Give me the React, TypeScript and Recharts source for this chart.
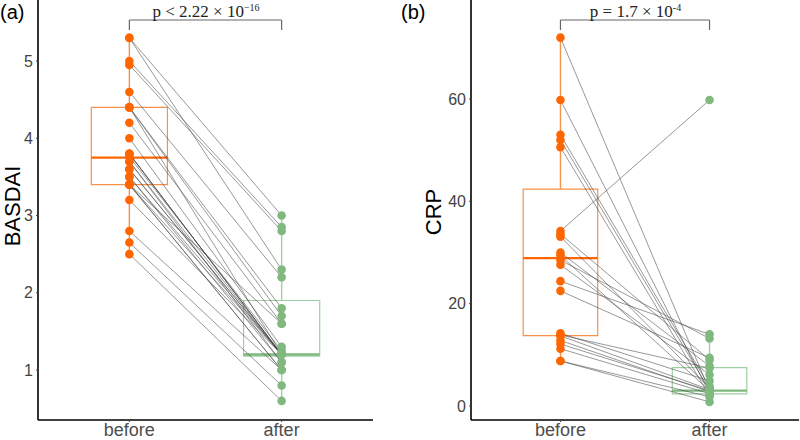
import React from "react";
import {
  ComposedChart,
  XAxis,
  YAxis,
  Line,
  Scatter,
  ReferenceArea,
  ReferenceLine,
} from "recharts";

// ---------- categories ----------
const groups = ["before", "after"];
const groupPos = [1, 2];

// ---------- BASDAI (panel a) ----------
const basdaiBefore = [5.3, 5.3, 5.0, 4.95, 4.6, 4.4, 4.4, 4.4, 4.2, 4.0, 3.8, 3.8, 3.76, 3.7, 3.7, 3.6, 3.6, 3.5, 3.5, 3.4, 3.4, 3.4, 3.2, 2.8, 2.65, 2.5, 3.8, 3.4];
const basdaiAfter = [3.0, 2.3, 2.85, 2.8, 2.2, 1.8, 1.7, 1.2, 1.6, 1.3, 1.2, 1.2, 1.25, 1.2, 1.1, 1.2, 1.2, 1.1, 1.2, 1.0, 1.2, 1.0, 1.2, 1.0, 0.8, 0.6, 1.2, 1.6];
// [lowWhisker, Q1, median, Q3, highWhisker]
const basdaiBoxBefore = [2.5, 3.4, 3.75, 4.4, 5.3];
const basdaiBoxAfter = [0.6, 1.18, 1.2, 1.9, 3.0];
const basdaiTicks = [1, 2, 3, 4, 5];
const basdaiP = { base: "p < 2.22 × 10", exp: "−16" };

// ---------- CRP (panel b) ----------
const crpBefore = [72.0, 59.8, 53.0, 52.0, 50.6, 34.2, 33.6, 33.1, 30.0, 29.4, 28.5, 27.6, 24.4, 22.5, 14.2, 13.7, 12.8, 12.1, 11.2, 8.8, 8.8, 13.9];
const crpAfter = [3.0, 2.5, 3.8, 3.1, 2.0, 59.8, 9.0, 3.5, 7.8, 3.0, 13.2, 6.1, 14.0, 9.4, 4.9, 3.2, 2.8, 3.0, 2.4, 1.8, 0.8, 7.4];
const crpBoxBefore = [8.8, 13.75, 28.9, 42.4, 72.0];
const crpBoxAfter = [0.8, 2.35, 3.0, 7.5, 14.0];
const crpTicks = [0, 20, 40, 60];
const crpP = { base: "p = 1.7 × 10", exp: "-4" };

const ORANGE = "#ff6600";
const ORANGE_BOX = "#f7904a";
const GREEN = "#7fb97f";
const GREEN_BOX = "#9fd09f";
const PAIR = "rgba(70,70,70,0.7)";

type PanelProps = {
  before: number[];
  after: number[];
  boxBefore: number[];
  boxAfter: number[];
  ticks: number[];
  domain: [number, number];
  bracket: [number, number];
  yAxisWidth: number;
  marginRight: number;
};

const dot = (color: string) => (p: any) =>
  p.cx == null ? <g /> : <circle cx={p.cx} cy={p.cy} r={4.3} fill={color} />;

function Panel(props: PanelProps) {
  const { before, after, boxBefore, boxAfter, ticks, domain, bracket, yAxisWidth, marginRight } = props;
  const beforePts = before.map((y) => ({ x: groupPos[0], y }));
  const afterPts = after.map((y) => ({ x: groupPos[1], y }));
  const boxes = [
    { s: boxBefore, x: groupPos[0], c: ORANGE_BOX, m: ORANGE },
    { s: boxAfter, x: groupPos[1], c: GREEN_BOX, m: GREEN },
  ];
  const hw = 0.25;
  return (
    <ComposedChart width={400} height={440} margin={{ top: 0, right: marginRight, bottom: 0, left: 0 }}>
      <XAxis
        dataKey="x"
        type="number"
        domain={[0.4, 2.6]}
        ticks={groupPos}
        tickFormatter={(v: number) => groups[groupPos.indexOf(v)] ?? ""}
        height={20}
        tickSize={2}
        tickMargin={1}
        axisLine={{ stroke: "#000", strokeWidth: 1.6 }}
        tickLine={{ stroke: "#444" }}
        tick={{ fill: "#4d4d4d", fontSize: 18, fontFamily: "Liberation Sans, Arial, sans-serif" }}
        allowDataOverflow
      />
      <YAxis
        dataKey="y"
        type="number"
        domain={domain}
        ticks={ticks}
        width={yAxisWidth}
        tickSize={2}
        tickMargin={3}
        axisLine={{ stroke: "#000", strokeWidth: 1.6 }}
        tickLine={{ stroke: "#444" }}
        tick={{ fill: "#444", fontSize: 16, fontFamily: "Liberation Sans, Arial, sans-serif" }}
        allowDataOverflow
      />
      {boxes.map((b, i) => (
        <ReferenceArea
          key={"box" + i}
          x1={b.x - hw}
          x2={b.x + hw}
          y1={b.s[1]}
          y2={b.s[3]}
          fill="none"
          fillOpacity={0}
          stroke={b.c}
          strokeWidth={1.2}
          ifOverflow="visible"
        />
      ))}
      {boxes.map((b, i) => (
        <ReferenceLine
          key={"wl" + i}
          segment={[{ x: b.x, y: b.s[0] }, { x: b.x, y: b.s[1] }]}
          stroke={b.c}
          strokeWidth={1.4}
          ifOverflow="visible"
        />
      ))}
      {boxes.map((b, i) => (
        <ReferenceLine
          key={"wh" + i}
          segment={[{ x: b.x, y: b.s[3] }, { x: b.x, y: b.s[4] }]}
          stroke={b.c}
          strokeWidth={1.4}
          ifOverflow="visible"
        />
      ))}
      {boxes.map((b, i) => (
        <ReferenceLine
          key={"med" + i}
          segment={[{ x: b.x - hw, y: b.s[2] }, { x: b.x + hw, y: b.s[2] }]}
          stroke={b.m}
          strokeWidth={2.4}
          ifOverflow="visible"
        />
      ))}
      <ReferenceLine
        segment={[{ x: groupPos[0], y: bracket[0] }, { x: groupPos[0], y: bracket[1] }]}
        stroke="#666"
        strokeWidth={1.2}
        ifOverflow="visible"
      />
      <ReferenceLine
        segment={[{ x: groupPos[0], y: bracket[1] }, { x: groupPos[1], y: bracket[1] }]}
        stroke="#666"
        strokeWidth={1.2}
        ifOverflow="visible"
      />
      <ReferenceLine
        segment={[{ x: groupPos[1], y: bracket[1] }, { x: groupPos[1], y: bracket[0] }]}
        stroke="#666"
        strokeWidth={1.2}
        ifOverflow="visible"
      />
      {before.map((b, i) => (
        <Line
          key={"pair" + i}
          data={[
            { x: groupPos[0], y: b },
            { x: groupPos[1], y: after[i] },
          ]}
          dataKey="y"
          stroke={PAIR}
          strokeWidth={0.8}
          dot={false}
          activeDot={false}
          isAnimationActive={false}
        />
      ))}
      <Scatter data={beforePts} dataKey="y" shape={dot(ORANGE)} isAnimationActive={false} />
      <Scatter data={afterPts} dataKey="y" shape={dot(GREEN)} isAnimationActive={false} />
    </ComposedChart>
  );
}

const textBase: React.CSSProperties = {
  position: "absolute",
  fontFamily: "Liberation Sans, Arial, sans-serif",
  color: "#000",
  whiteSpace: "nowrap",
  lineHeight: "normal",
};

function PLabel({ left, width, p }: { left: number; width: number; p: { base: string; exp: string } }) {
  return (
    <div
      style={{
        position: "absolute",
        left,
        top: 3,
        width,
        textAlign: "center",
        fontFamily: "Liberation Serif, Times New Roman, serif",
        fontSize: 17,
        lineHeight: "17px",
        color: "#222",
        whiteSpace: "nowrap",
      }}
    >
      {p.base}
      <sup style={{ fontSize: 10, lineHeight: 0, verticalAlign: "6px" }}>{p.exp}</sup>
    </div>
  );
}

export default function App() {
  return (
    <div style={{ position: "absolute", left: 0, top: 0, width: 800, height: 440, background: "#fff", overflow: "hidden" }}>
      <div style={{ position: "absolute", left: 0, top: 0 }}>
        <Panel
          before={basdaiBefore}
          after={basdaiAfter}
          boxBefore={basdaiBoxBefore}
          boxAfter={basdaiBoxAfter}
          ticks={basdaiTicks}
          domain={[0.353, 5.79]}
          bracket={[5.402, 5.531]}
          yAxisWidth={38}
          marginRight={27}
        />
      </div>
      <div style={{ position: "absolute", left: 400, top: 0 }}>
        <Panel
          before={crpBefore}
          after={crpAfter}
          boxBefore={crpBoxBefore}
          boxAfter={crpBoxAfter}
          ticks={crpTicks}
          domain={[-2.74, 79.35]}
          bracket={[73.49, 75.44]}
          yAxisWidth={71}
          marginRight={1}
        />
      </div>
      <div style={{ ...textBase, left: 0, top: 1, fontSize: 20 }}>(a)</div>
      <div style={{ ...textBase, left: 401, top: 1, fontSize: 20 }}>(b)</div>
      <div style={{ ...textBase, left: 13, top: 206, fontSize: 22, lineHeight: "24px", transform: "translate(-50%, -50%) rotate(-90deg)" }}>BASDAI</div>
      <div style={{ ...textBase, left: 434, top: 212, fontSize: 22, lineHeight: "24px", transform: "translate(-50%, -50%) rotate(-90deg)" }}>CRP</div>
      <PLabel left={130} width={152} p={basdaiP} />
      <PLabel left={561} width={149} p={crpP} />
    </div>
  );
}
